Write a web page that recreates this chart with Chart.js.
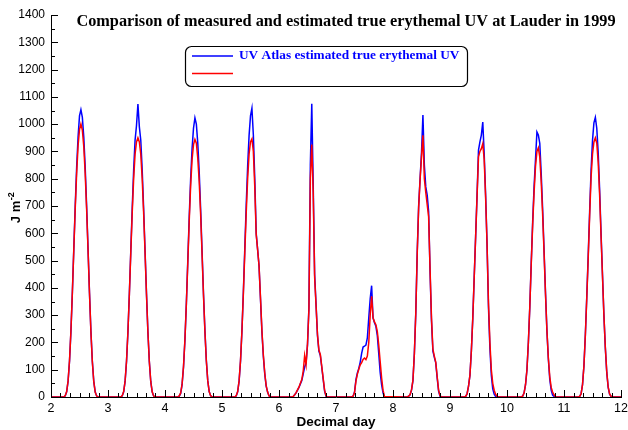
<!DOCTYPE html>
<html>
<head>
<meta charset="utf-8">
<title>Measured and estimated erythemal UV, Lauder 1999</title>
<script src="https://cdn.jsdelivr.net/npm/chart.js@4.4.1/dist/chart.umd.min.js"></script>
<style>
  html, body { margin: 0; padding: 0; background: #fff; }
</style>
</head>
<body>
<canvas id="uv_chart" width="628" height="430"></canvas>
<script>
// data: one row per day, sampled every 0.025 day from day+0.200 to day+0.850
const day_starts = [2, 3, 4, 5, 6, 7, 8, 9, 10, 11];
const sample_offsets = [0.2, 0.225, 0.25, 0.275, 0.3, 0.325, 0.35, 0.375, 0.4, 0.425, 0.45, 0.475, 0.5, 0.525,
    0.55, 0.575, 0.6, 0.625, 0.65, 0.675, 0.7, 0.725, 0.75, 0.775, 0.8, 0.825, 0.85];
const edge_days = [2, 12]; // night-time zero at both ends of the axis

// UV Atlas estimated true erythemal UV (blue)
const atlas_uv = [
    [0, 0, 4, 19, 58, 132, 242, 384, 542, 700, 842, 953, 1030, 1053, 1025, 953, 842, 700, 542, 384, 242, 132, 58, 19, 4, 0, 0],
    [0, 0, 4, 19, 57, 130, 239, 380, 536, 692, 832, 941, 995, 1074, 990, 941, 832, 692, 536, 380, 239, 130, 57, 19, 4, 0, 0],
    [0, 0, 3, 13, 45, 110, 210, 345, 500, 660, 800, 910, 985, 1023, 1000, 930, 825, 690, 535, 380, 245, 135, 60, 20, 5, 0, 0],
    [0, 0, 4, 19, 58, 132, 243, 386, 545, 704, 846, 958, 1030, 1058, 960, 800, 600, 540, 480, 360, 240, 150, 85, 40, 18, 4, 0],
    [0, 0, 2, 8, 15, 25, 35, 48, 60, 85, 110, 125, 190, 330, 850, 1075, 780, 450, 340, 225, 168, 152, 110, 65, 22, 3, 0],
    [0, 0, 0, 0, 3, 18, 64, 88, 105, 128, 160, 183, 186, 190, 217, 290, 360, 408, 290, 272, 259, 225, 160, 90, 45, 15, 0],
    [0, 0, 0, 3, 8, 25, 60, 160, 310, 530, 700, 800, 895, 1033, 850, 770, 740, 680, 460, 280, 168, 145, 125, 70, 22, 3, 0],
    [0, 0, 0, 2, 12, 40, 80, 170, 290, 440, 590, 742, 905, 935, 960, 1008, 890, 740, 560, 330, 180, 80, 30, 10, 2, 0, 0],
    [0, 0, 0, 3, 15, 45, 100, 200, 330, 490, 640, 770, 870, 971, 960, 930, 820, 690, 540, 385, 245, 140, 65, 25, 7, 2, 0],
    [0, 0, 0, 2, 12, 45, 115, 230, 370, 520, 680, 830, 940, 1005, 1025, 985, 895, 760, 600, 450, 300, 180, 90, 35, 10, 2, 0],
];

// measured erythemal UV (red)
const measured_uv = [
    [0, 0, 5, 20, 60, 134, 244, 384, 540, 690, 820, 920, 980, 1001, 978, 918, 818, 688, 538, 382, 240, 130, 57, 18, 4, 0, 0],
    [0, 0, 5, 20, 59, 132, 240, 378, 530, 675, 800, 890, 935, 950, 935, 890, 800, 675, 530, 378, 239, 130, 57, 19, 4, 0, 0],
    [0, 0, 4, 15, 48, 113, 212, 342, 492, 645, 775, 870, 925, 944, 930, 875, 790, 670, 525, 375, 242, 133, 60, 20, 5, 0, 0],
    [0, 0, 5, 20, 60, 134, 244, 380, 530, 675, 800, 890, 935, 946, 900, 770, 595, 540, 480, 365, 245, 155, 88, 42, 18, 4, 0],
    [0, 0, 2, 8, 16, 26, 36, 50, 64, 95, 152, 118, 195, 320, 800, 925, 750, 440, 335, 230, 172, 156, 112, 68, 25, 4, 0],
    [0, 0, 0, 0, 3, 16, 58, 84, 102, 118, 126, 138, 143, 137, 150, 200, 300, 369, 290, 275, 265, 240, 190, 130, 70, 25, 2],
    [0, 0, 0, 3, 9, 27, 62, 160, 308, 525, 695, 795, 880, 959, 800, 750, 705, 660, 470, 290, 175, 150, 128, 75, 25, 5, 0],
    [0, 0, 0, 2, 12, 40, 80, 170, 290, 440, 588, 738, 880, 900, 910, 928, 870, 730, 560, 345, 200, 100, 50, 25, 10, 3, 0],
    [0, 0, 0, 3, 15, 45, 100, 200, 330, 485, 630, 750, 845, 900, 913, 880, 790, 670, 530, 380, 245, 145, 75, 35, 18, 8, 1],
    [0, 0, 0, 2, 12, 45, 115, 228, 365, 510, 665, 805, 890, 935, 950, 930, 860, 740, 590, 445, 300, 182, 92, 37, 11, 3, 0],
];

const chart_title = "Comparison of measured and estimated true erythemal UV at Lauder in 1999";
const atlas_label = "UV Atlas estimated true erythemal UV";
const measured_label = "";
const x_title = "Decimal day";
const y_title = "J m";
const y_title_power = "-2";

const x_min = 2, x_max = 12, x_step = 1, x_minor_per_step = 6;
const y_min = 0, y_max = 1400, y_step = 100, y_minor = 50;

// turn the day rows into x/y points
function toPoints(rows) {
    let points = [{ x: edge_days[0], y: 0 }];
    day_starts.forEach((day, i) => {
        sample_offsets.forEach((offset, j) => {
            points.push({ x: day + offset, y: rows[i][j] });
        });
    });
    points.push({ x: edge_days[1], y: 0 });
    return points;
}

// title, boxed legend, y title with superscript and inward tick marks
const overlay_plugin = {
    id: "overlay",
    afterDraw(chart) {
        const ctx = chart.ctx;
        const x_scale = chart.scales.x;
        const y_scale = chart.scales.y;
        const area = chart.chartArea;

        ctx.save();
        ctx.strokeStyle = "#000";
        ctx.lineWidth = 1;
        ctx.beginPath();
        const x_count = (x_max - x_min) * x_minor_per_step;
        for (let k = 0; k <= x_count; k++) {
            const px = Math.round(x_scale.getPixelForValue(x_min + k / x_minor_per_step)) + 0.5;
            const len = k % x_minor_per_step == 0 ? 7 : 4;
            ctx.moveTo(px, area.bottom);
            ctx.lineTo(px, area.bottom - len);
        }
        for (let v = y_min; v <= y_max; v += y_minor) {
            const py = Math.round(y_scale.getPixelForValue(v)) + 0.5;
            const len = v % y_step == 0 ? 7 : 4;
            ctx.moveTo(area.left, py);
            ctx.lineTo(area.left + len, py);
        }
        ctx.stroke();

        // title
        ctx.fillStyle = "#000";
        ctx.font = "bold 16.3px 'Liberation Serif'";
        ctx.textAlign = "center";
        ctx.textBaseline = "middle";
        ctx.fillText(chart_title, 346, 22);

        // legend box
        const bx = 185.5, by = 46.5, bw = 282, bh = 40, r = 6;
        ctx.beginPath();
        ctx.moveTo(bx + r, by);
        ctx.arcTo(bx + bw, by, bx + bw, by + bh, r);
        ctx.arcTo(bx + bw, by + bh, bx, by + bh, r);
        ctx.arcTo(bx, by + bh, bx, by, r);
        ctx.arcTo(bx, by, bx + bw, by, r);
        ctx.closePath();
        ctx.lineWidth = 1.2;
        ctx.strokeStyle = "#000";
        ctx.stroke();

        ctx.textAlign = "left";
        ctx.font = "bold 13.3px 'Liberation Serif'";
        chart.data.datasets.forEach((ds, i) => {
            const ly = 56 + i * 17.5;
            ctx.beginPath();
            ctx.strokeStyle = ds.borderColor;
            ctx.lineWidth = 1.5;
            ctx.moveTo(192, ly);
            ctx.lineTo(233, ly);
            ctx.stroke();
            ctx.fillStyle = ds.borderColor;
            ctx.fillText(ds.label, 239, ly);
        });

        // y axis title J m-2
        ctx.translate(15, 208);
        ctx.rotate(-Math.PI / 2);
        ctx.fillStyle = "#000";
        ctx.font = "bold 13px 'Liberation Sans'";
        const base_w = ctx.measureText(y_title).width;
        ctx.font = "bold 9px 'Liberation Sans'";
        const pow_w = ctx.measureText(y_title_power).width;
        const start = -(base_w + pow_w) / 2;
        ctx.textAlign = "left";
        ctx.textBaseline = "alphabetic";
        ctx.font = "bold 13px 'Liberation Sans'";
        ctx.fillText(y_title, start, 4.5);
        ctx.font = "bold 9px 'Liberation Sans'";
        ctx.fillText(y_title_power, start + base_w + 0.5, -1);
        ctx.restore();
    },
};

Chart.defaults.font.family = "'Liberation Sans', Arial, sans-serif";
Chart.defaults.color = "#000";

const ctx = document.getElementById("uv_chart").getContext("2d");

const my_chart = new Chart(ctx, {
    type: "line",
    data: {
        datasets: [
            {
                label: atlas_label,
                data: toPoints(atlas_uv),
                borderColor: "#0000ff",
                borderWidth: 1.5,
                pointRadius: 0,
                fill: false,
                tension: 0,
                order: 2,
            },
            {
                label: measured_label,
                data: toPoints(measured_uv),
                borderColor: "#ff0000",
                borderWidth: 1.5,
                pointRadius: 0,
                fill: false,
                tension: 0,
                order: 1,
            },
        ],
    },
    options: {
        responsive: false,
        animation: false,
        layout: { padding: { top: 15, right: 7, left: 0, bottom: 0 } },
        plugins: {
            legend: { display: false },
            tooltip: { enabled: false },
        },
        scales: {
            x: {
                type: "linear",
                min: x_min,
                max: x_max,
                ticks: { stepSize: x_step, padding: 4, font: { size: 12.5 }, color: "#000" },
                grid: { drawOnChartArea: false, drawTicks: false },
                border: { display: true, color: "#000", width: 1 },
                title: { display: true, text: x_title, font: { size: 13.5, weight: "bold" }, padding: { top: 0, bottom: 0 } },
                afterFit: (scale) => {
                    scale.height = 33;
                    scale.paddingLeft = 0;
                    scale.paddingRight = 0;
                },
            },
            y: {
                min: y_min,
                max: y_max,
                ticks: { stepSize: y_step, padding: 6, font: { size: 12 }, color: "#000", format: { useGrouping: false } },
                grid: { drawOnChartArea: false, drawTicks: false },
                border: { display: true, color: "#000", width: 1 },
                afterFit: (scale) => {
                    scale.width = 51;
                    scale.paddingTop = 0;
                    scale.paddingBottom = 0;
                },
            },
        },
    },
    plugins: [overlay_plugin],
});
</script>
</body>
</html>
